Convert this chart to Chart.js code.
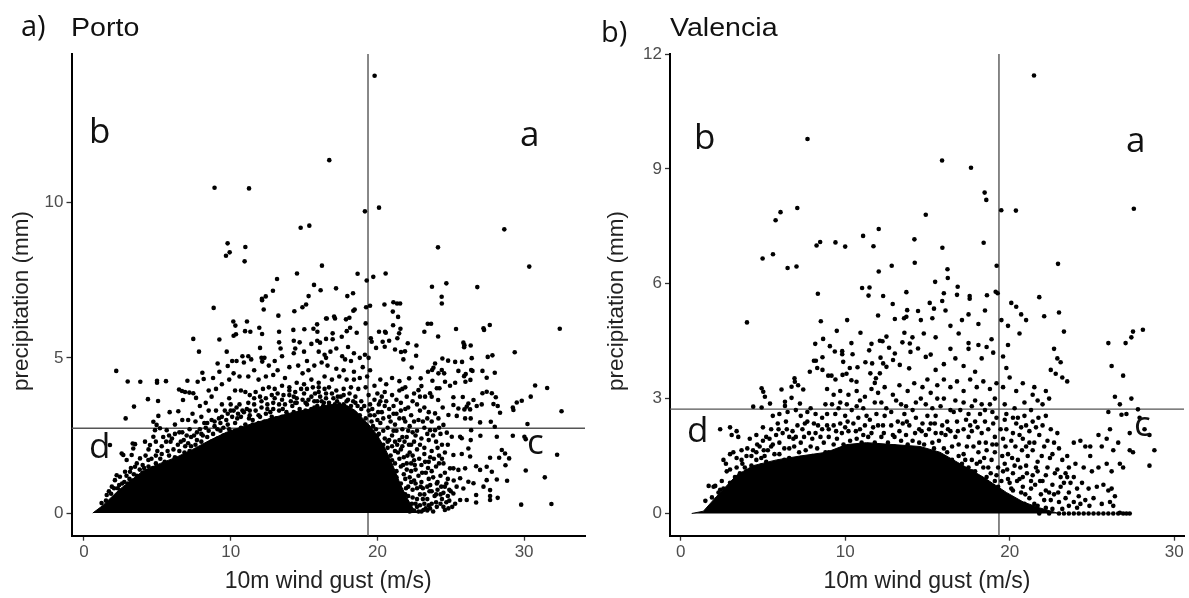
<!DOCTYPE html>
<html><head><meta charset="utf-8">
<script src="https://cdn.jsdelivr.net/npm/chart.js@4"></script>
<style>
html,body{margin:0;padding:0;background:#fff;width:1189px;height:598px;overflow:hidden}
canvas{position:absolute;top:0}
.t{position:absolute;color:#111;white-space:nowrap;line-height:1}
.h{font-family:"Liberation Sans",sans-serif;font-size:26px;transform-origin:left top;transform:scaleX(1.1)}
.p{font-family:"Open Sans",sans-serif;font-size:29px}
.l{font-family:"Open Sans",sans-serif;font-size:35px}
</style></head><body>
<canvas id="c1" width="595" height="598" style="left:0"></canvas>
<canvas id="c2" width="594" height="598" style="left:595px"></canvas>
<div class="t p" style="left:21px;top:10px">a)</div>
<div class="t h" style="left:71px;top:14px">Porto</div>
<div class="t p" style="left:601px;top:16px">b)</div>
<div class="t h" style="left:670px;top:14px">Valencia</div>
<div class="t l" style="left:89px;top:112px">b</div>
<div class="t l" style="left:520px;top:115px">a</div>
<div class="t l" style="left:89px;top:427px">d</div>
<div class="t l" style="left:527px;top:423px">c</div>
<div class="t l" style="left:694px;top:118px">b</div>
<div class="t l" style="left:1126px;top:121px">a</div>
<div class="t l" style="left:687px;top:411px">d</div>
<div class="t l" style="left:1134px;top:405px">c</div>
<script>
const xTitle = "10m wind gust (m/s)";
const yTitle = "precipitation (mm)";
const xTicks = [0,10,20,30];
const portoYTicks = [0,5,10];
const valenciaYTicks = [0,3,6,9,12];
const portoGust = 19.36, portoPrecip = 2.73;
const valenciaGust = 19.35, valenciaPrecip = 2.725;

// upper edge of the solid black mass of overlapping points
const portoMass = [[0.6,0],[1.3,.25],[2.4,.75],[4,1.35],[5.2,1.6],[6.3,1.8],[7.4,2.05],[8.6,2.35],[9.7,2.6],[10.9,2.8],[12,2.95],[13.1,3.1],[14.3,3.25],[15.4,3.35],[16.8,3.5],[17.8,3.5],[18.5,3.3],[19,3.05],[19.5,2.8],[20,2.5],[20.5,2.1],[21,1.6],[21.5,1.0],[22,.5],[22.5,.1],[22.8,0]];
const valenciaMass = [[.67,0],[1.38,.06],[2.19,.45],[3.4,1.0],[4.41,1.25],[5.83,1.4],[7.25,1.5],[8.87,1.6],[10.08,1.8],[11.3,1.85],[12.91,1.8],[14.55,1.75],[15.76,1.6],[16.98,1.3],[18.4,.95],[19.8,.55],[20.83,.3],[21.8,.15],[23,0]];

const portoPoints = [
[8.9,10.48],[11.25,10.46],[14.77,9.19],[15.36,9.26],[16.72,11.37],[9.79,8.69],[9.93,8.4],[9.68,8.29],[11,8.57],[10.95,8.11],[16.22,7.97],[14.52,7.72],[13.16,7.54],[12.88,7.16],[12.39,6.98],[12.13,6.9],[15.68,7.35],[16.13,7.18],[15.31,6.99],
[19.81,14.09],[19.15,9.72],[20.11,9.84],[28.65,9.14],[24.13,8.56],[30.35,7.94],[18.65,7.71],[19.72,7.61],[20.56,7.72],[19.27,7.49],[17.18,7.24],[18.34,7.08],[17.95,6.99],[23.72,7.29],[24.7,7.4],[26.81,7.28],[24.38,6.97],[24.39,6.75],
[2.2,4.58],[2.98,4.24],[3.84,4.23],[4.98,4.26],[4.98,4.2],[5.59,4.25],[3.41,3.43],[2.84,3.05],[4.36,3.67],[5.05,3.61],[5.07,3.13],[5.84,3.25],[6.43,3.28],[6.48,3.98],[6.68,3.93],[6.89,3.9],[7.18,3.88],[7.45,3.86],[7.05,4.26],[6.75,3.64],[7.64,3.71],[7.45,5.61],[7.84,5.2],[8.84,6.61],[9.23,5.59],[9.73,5.2],[8.07,4.52],[7.75,4.23],[8.16,4.32],[9.11,4.82],[9.23,4.55],[9.8,4.74],[10.18,6.17],[10.32,6.04],[11.11,6.17],[10.2,5.71],[10.36,5.76],[10.98,5.86],[11.34,5.84],[11.95,5.97],[12.14,5.77],[12.25,6.56],[12.14,6.86],[13.25,6.36],[14.34,6.5],[14.89,6.63],[15.14,6.72],[13.3,5.84],[14.27,5.9],[15.02,5.92],[15.64,5.94],[15.89,6.08],[15.91,5.84],[16.55,6.27],
[12,5.32],[12.1,5.0],[12.3,5.0],[12.15,4.88],[10.1,4.9],[10.4,4.9],[10.8,5.05],[11.2,5.05],[10.9,4.85],[11.4,4.95],[11.6,4.6],[12.6,4.75],[13.0,4.9],[13.3,5.5],[13.4,5.3],[13.5,5.05],[14.3,5.55],[14.4,5.3],[14.7,5.5],[15.0,5.2],[15.5,5.45],[15.9,5.55],[16.0,5.2],[16.5,5.0],[14.3,5.15],[13.2,4.6],[14.0,4.7],[14.6,4.75],[15.2,4.9],[15.7,4.75],[15.3,4.6],[14.9,4.5],[13.7,4.35],[12.9,4.45],[12.4,4.4],[11.9,4.3],[11.2,4.4],[10.6,4.4],[10.2,4.5],[9.9,4.3],[9.4,4.15],[8.8,4.35],[8.5,3.95],[9,4.0],[8.7,3.75],[8.3,3.55],[7.9,3.45],[7.4,3.2],[7.1,3.0],[6.7,3.0],[6.2,2.85],[6.5,2.6],[7.2,2.7],[7.7,2.6],[8.2,2.9],[8.5,3.3],[9,3.3],[9.4,3.5],[9.9,3.7],[10.3,3.95],[10.7,3.95],[11,3.9],[11.3,3.8],[11.7,3.9],[12.2,4.0],[12.6,4.05],[13,4.0],[13.5,4.1],[14,4.05],[14.5,4.2],[15,4.15],[15.5,4.3],[16,4.2],[16.4,4.4],
[1.77,2.19],[2.57,1.92],[2.68,1.87],[3.25,1.87],[2.91,1.71],[3.32,2.24],[3.48,2.22],[3.36,2.08],[2.23,1.22],[2.11,1.06],[2.45,1.17],[2.8,1.33],[3.14,1.33],[3.48,1.49],[3.82,1.76],[4.39,1.71],[4.16,2.3],[4.5,2.19],[4.73,2.46],[4.84,2.67],[4.95,2.84],[4.73,2.94],[5.18,2.73],[5.64,2.67],[1.7,.7],[1.55,.58],[1.9,.85],[2.05,.8],[2.4,.9],[2.75,1.0],[3.1,1.1],[3.4,1.25],[3.8,1.4],[4.1,1.45],[4.4,1.5],[4.9,1.6],[5.2,1.75],[5.5,1.65],[5.8,1.85],[6.2,1.8],[6.5,1.75],[6.85,1.95],[7.2,2.0],[5,2.0],[5.3,2.15],[5.6,2.3],[6,2.4],[6.4,2.2],[6.8,2.35],[7.1,2.25],[7.6,2.2],[8,2.3],[8.4,2.45],[8.8,2.55],[9.1,2.7],[9.5,2.75],[9.9,2.7],[10.3,2.9],[10.7,3.1],[11,2.85],[11.5,3.0],[12,3.1],[12.4,3.2],[12.8,3.1],[13.3,3.3],[13.8,3.25],[14.2,3.45],[14.7,3.35],[15.2,3.5],[15.7,3.4],[16.2,3.6],[16.7,3.55],[8.9,2.95],[9.4,3.1],[9.8,3.2],[10.2,3.3],[10.6,3.5],[11.1,3.35],[11.6,3.5],[12.1,3.6],[12.5,3.5],[13,3.7],[13.5,3.65],[14,3.8],[14.5,3.7],[15,3.85],[15.5,3.75],[16,3.9],[16.5,3.85],[7.6,2.95],[8,3.1],[10,3.5],[11.3,3.15],[12.9,3.35],[14.4,3.55],[15.9,3.6],
[16.5,6.27],[17.05,6.33],[17.11,6.27],[17.86,6.24],[18.09,6.29],[18.36,6.52],[18.45,6.56],[16.95,5.79],[16.95,5.6],[16.5,5.61],[16.09,5.49],[17.57,5.68],[17.91,5.86],[18.14,5.97],[18.59,5.81],[17.2,5.3],[16.8,5.2],[16.4,5.1],[17.6,5.05],[18,5.35],[18.4,5.15],[17.8,4.95],[18.8,5.0],[19.15,5.1],[19.4,5.0],[18.2,4.9],[17.2,4.65],[16.6,4.75],[16.2,4.85],[17.7,4.6],[18.4,4.55],[19,4.7],[19.5,4.6],[16.9,4.3],[17.4,4.4],[17.9,4.3],[18.4,4.3],[18.8,4.35],[19.3,4.4],[16.7,4.05],[17.2,3.95],[17.7,4.0],[18.2,4.05],[18.7,4.0],[19.2,4.05],[17,3.7],[17.5,3.75],[18,3.65],[18.5,3.75],[18.9,3.6],[19.4,3.8],[17.4,3.5],[18.2,3.45],[18.9,3.35],[19.4,3.3],[19.5,3.5],
[19.5,6.68],[19.23,6.63],[20.48,6.72],[21.09,6.79],[21.34,6.75],[21.55,6.75],[21.05,6.49],[21.41,6.32],[21.07,6.05],[21.57,5.94],[21.48,5.79],[21.36,5.63],[19.2,6.11],[23.43,6.1],[23.66,6.1],[23.2,5.84],[24.14,5.69],[25.36,5.93],[27.23,5.95],[27.27,5.9],[27.66,6.06],[32.43,5.94],[20.11,5.84],[20.52,5.84],[20.57,5.81],[20.36,5.52],[20.8,5.55],[19.55,5.63],[19.61,5.52],[22.07,5.47],[22.66,5.4],[19.91,5.32],[20.5,5.36],[21.2,5.27],[21.88,5.21],[21.61,5.19],[22.64,5.07],[21.77,4.95],[25.91,5.34],[25.86,5.49],[25.93,5.41],[26.36,5.4],[29.36,5.18],[27.52,5.03],[27.84,5.08],[26.43,4.99],[24.43,4.98],[24.82,4.91],[25.3,4.87],[25.77,4.87],[23.93,4.82],[22.34,4.69],[23.82,4.68],[23.45,4.55],[23.73,4.61],[24.16,4.5],[24.39,4.61],[24.55,4.5],[25.52,4.58],[26.02,4.48],[26.39,4.61],[26.48,4.58],[27.16,4.58],[28,4.52],[27.45,4.36],[30.75,4.11],[31.57,4.03],[30.45,3.75],[29.84,3.62],[29.5,3.56],[29.23,3.4],[29.27,3.32],[32.55,3.28],[30.23,2.87],
[22.95,4.34],[22.16,4.34],[23.75,4.26],[24.61,4.23],[25.3,4.2],[24.95,4.1],[26,4.23],[26.34,4.29],[25.91,4.41],[23,4.09],[24.05,4.02],[24.23,4.02],[22.8,3.96],[23.59,3.86],[23.25,3.75],[23.7,3.75],[24.14,3.64],[25.18,3.73],[25.82,3.74],[26.55,3.64],[26.2,3.53],[26.09,3.43],[26.77,3.45],[27.11,3.5],[27.16,3.86],[27.45,3.91],[27.8,3.86],[28.07,3.73],[28.2,3.45],[28.36,3.23],[27.91,3.51],[25.18,3.48],[25.52,3.37],[25.93,3.34],[26.32,3.34],[24.45,3.4],[23.93,3.21],[24.16,3.05],[24.84,3.16],[25.41,3.13],[25.98,3.05],[26.36,3.05],[27,2.92],[27.73,2.94],[28,2.78],[24.5,2.84],[27.02,2.49],[28.14,2.46],[29.23,2.49],[30.02,2.46],[30.11,2.38],[26.39,2.67],[26.36,2.35],[25.75,2.41],[25.07,2.46],[24.73,2.59],[23.93,2.67],[23.59,2.67],[28.48,2.03],[28.7,1.92],[28.98,1.76],[28.3,1.78],[27.68,1.78],[28.73,1.54],[32.25,1.88],[30.11,1.37],[31.41,1.15],[28.84,1.04],[28.14,1.08],[29.8,.27],[31.86,.29],[28.2,.49],[27.68,.42],[27.68,.55],[27.68,.74],[27.23,.85],[27.45,1.06],[27.8,1.33],[27.45,1.49],[27,1.39],[26.73,1.51],[26.73,.34],[26.73,.58],[26.55,.96],[26.2,1.01],[25.86,.79],[25.64,1.12],[25.18,1.44],[25.98,1.44],[25.52,1.39],[24.95,1.44],[25.18,1.87],[25.75,1.9],[26.32,1.82],[26.2,2.08],[25.64,2.46],[26.09,.42],[25.64,.42],[25.18,.63],[24.84,.15],[24.5,.2],[24.05,.2],[23.59,.15],[23.14,.1],
[19.8,4.1],[20.2,4.3],[20.6,4.15],[21,4.35],[21.5,4.25],[21.9,4.05],[20,3.85],[20.5,3.9],[21,3.8],[21.5,3.95],[22,3.75],[22.5,3.85],[20.1,3.5],[20.6,3.6],[21.1,3.45],[21.6,3.55],[22.1,3.4],[22.7,3.5],[23.2,3.4],[19.8,3.15],[20.3,3.25],[20.8,3.1],[21.3,3.2],[21.8,3.05],[22.3,3.15],[22.8,3.0],[23.4,3.05],[19.7,2.8],[20.2,2.9],[20.7,2.75],[21.2,2.85],[21.7,2.7],[22.2,2.8],[22.7,2.65],[23.2,2.75],[20,2.5],[20.5,2.4],[21,2.5],[21.5,2.35],[22,2.45],[22.5,2.3],[23,2.4],[23.5,2.35],[24,2.3],[24.4,2.2],[20.7,2.1],[21.2,2.0],[21.7,2.15],[22.2,1.95],[22.7,2.05],[23.2,1.9],[23.7,2.0],[24.2,1.85],[24.6,1.95],[21,1.7],[21.5,1.75],[22,1.6],[22.5,1.7],[23,1.55],[23.5,1.65],[24,1.5],[24.5,1.6],[21.3,1.35],[21.8,1.25],[22.3,1.35],[22.8,1.2],[23.3,1.3],[23.8,1.15],[24.3,1.2],[24.8,1.1],[25.2,1.05],[21.6,.95],[22.1,.85],[22.6,.95],[23.1,.8],[23.6,.9],[24.1,.75],[24.6,.85],[25,.7],[21.9,.6],[22.4,.5],[22.9,.6],[23.4,.45],[23.9,.55],[24.4,.45],[24.9,.4],[25.3,.3],[22.2,.25],[22.7,.2],[23.2,.3],[23.7,.3],[22.5,.08],[23,.05],[23.4,.08],[21.2,2.3],[22.4,2.6],[19.9,2.3],[20.4,2.65],[21.5,3.05],[22.9,3.3]
];
// denser speckled band hugging the solid mass of Porto
const portoBand = [
[1.2,.32],[1.5,.4],[1.85,.62],[2.3,.8],[2.6,.95],[3,.95],[3.3,1.05],[3.6,1.2],[4,1.3],[4.3,1.35],[4.7,1.45],[5.1,1.5],[5.5,1.5],[5.9,1.6],[6.3,1.65],[6.7,1.8],[7.1,1.85],[7.5,1.95],[7.9,2.05],[8.3,2.15],[8.7,2.3],[9.1,2.4],[9.5,2.5],[9.9,2.55],[10.3,2.65],[10.7,2.75],[11.1,2.75],[11.5,2.85],[11.9,2.9],[12.3,2.95],[12.7,3],[13.1,3.05],[13.5,3.1],[13.9,3.15],[14.3,3.25],[14.7,3.25],[15.1,3.3],[15.5,3.35],[15.9,3.45],[16.3,3.45],[16.7,3.45],[17.1,3.5],[17.7,3.5],
[2.9,1.2],[3.2,1.45],[3.6,1.6],[4,1.55],[4.2,1.85],[4.6,1.75],[4.9,1.85],[5.3,1.9],[5.7,2.0],[6.1,2.05],[6.5,2.0],[6.9,2.15],[7.3,2.15],[7.7,2.35],[8.1,2.5],[8.5,2.65],[8.9,2.8],[9.3,2.9],[9.7,3.0],[10.1,3.1],[10.5,3.2],[10.9,3.25],[11.3,3.3],[11.7,3.3],[12.1,3.4],[12.5,3.35],[12.9,3.55],[13.3,3.5],[13.7,3.5],[14.1,3.6],[14.5,3.55],[14.9,3.65],[15.3,3.65],[15.7,3.6],[16.1,3.75],[16.5,3.7],[16.9,3.85],[17.3,3.75],[17.7,3.8],[18.1,3.85],[18.5,3.55],
[4.4,2.05],[4.9,2.3],[5.4,2.45],[5.8,2.5],[6.2,2.55],[6.7,2.6],[7,2.5],[7.5,2.5],[7.9,2.7],[8.3,2.75],[8.7,3],[9.2,3.05],[9.6,3.3],[10,3.3],[10.4,3.4],[10.8,3.3],[11.2,3.55],[11.6,3.7],[12,3.75],[12.4,3.7],[12.8,3.8],[13.2,3.85],[13.6,3.8],[14,3.95],[14.4,3.9],[14.8,4],[15.2,4],[15.6,4.05],[16,4.05],[16.4,4],
[18.8,3.15],[19.2,3.05],[19.6,2.95],[19.9,2.7],[20.1,2.55],[20.4,2.2],[20.7,2.3],[21,2.15],[20.9,1.85],[21.2,1.6],[21.4,1.95],[21.6,1.5],[21.8,1.8],[21.9,1.1],[22,1.4],[22.2,1.15],[22.3,1.6],[22.5,1.05],[22.6,1.4],[22.7,.8],[23,1.0],[23.2,.6],[23.4,.85],[23.5,1.1],[23.7,.7],[24,.35],[24.1,1.0],[24.3,.6],[24.5,.65],[24.7,.95],[24.9,.75],[25.1,.2],[25.4,.85],[22.1,.55],[22.4,.75],[22.7,.45],[22.9,.25],[23.1,.45],[23.5,.25],[22.6,.3],[22.2,.05],[22.8,.05],[23.8,.05],[24.3,.3],[24.6,.1],
[19.5,3.15],[20,3],[20.4,3.05],[20.9,2.95],[21.3,2.65],[21.7,2.45],[22.1,2.65],[22.3,2.2],[22.6,2.5],[22.9,2.2],[23.2,2.1],[23.4,2.55],[23.6,1.8],[23.8,2.5],[24.1,2.1],[24.3,2.55],[24.4,1.75],[24.8,2.2],[21.9,2.95],[22.5,2.95],[23.1,2.95],[23.7,2.95],[24.2,2.75],[20.2,3.6],[20.8,3.35],[21.3,3.65],[21.9,3.35],[22.4,3.6],[22.9,3.75],[23.5,3.25],[19.8,3.65],[21.7,4.0],[20.3,3.75],
[20.8,2.35],[21.1,2.65],[21.35,2.2],[21.6,2.05],[21.85,2.3],[22.05,1.85],[22.15,2.2],[22.4,1.85],[22.55,1.55],[22.85,1.75],[23.05,1.3],[23.25,1.65],[23.45,1.45],[23.7,1.35],[23.85,1.75],[24.05,.95],[24.2,1.6],[24.35,.85],[24.6,1.3],[24.8,.55],[22.3,1.0],[21.75,1.55],[21.3,1.15],[22.95,.85],[23.55,.7],[21.95,.8],[22.35,.3],[24.0,.6],[23.3,.15],[24.7,.35],
[5.9,2.3],[6.6,2.3],[7.3,2.45],[8,2.55],[8.4,2.9],[9.3,2.65],[9.8,2.85],[10.45,3.05],[11.25,3.05],[11.9,3.15],[12.7,3.25],[13.55,3.35],[14.3,3.75],[15.1,3.55],[15.75,3.85],[16.35,3.55],[17.25,3.6],[17.9,3.6],[18.35,3.6],[18.65,3.45],[19.1,3.45],[19.65,3.35],[20.05,3.25],[20.5,3.45],[21.1,3.2],[21.6,3.3]
];

const valenciaPoints = [
[7.71,9.78],[7.09,7.98],[6.07,7.87],[5.77,7.66],[14.9,7.8],[12.04,7.43],[11.09,7.25],[8.48,7.09],[8.26,7],[9.41,7.08],[10,6.97],[11.72,6.98],[14.21,7.16],[5.61,6.77],[4.98,6.66],[6.5,6.41],[7.04,6.45],[12.04,6.32],[12.83,6.47],[14.23,6.55],[11.03,5.89],[11.48,5.9],[11.42,5.69],[12.31,5.68],[13.72,5.78],[8.34,5.74],
[21.48,11.44],[15.89,9.22],[17.65,9.03],[18.48,8.38],[18.58,8.19],[19.49,7.92],[20.38,7.91],[27.55,7.96],[15.91,6.94],[18.42,7.07],[19.21,6.47],[22.94,6.52],[16.22,6.38],[16.24,6.15],[15.47,6.05],[16.84,5.92],[16.8,5.71],[17.57,5.68],[17.57,5.61],[18.62,5.7],[19.15,5.79],[19.27,5.75],
[4.03,4.99],[12.89,5.47],[13.77,5.31],[14.43,5.29],[15.14,5.5],[12,5.17],[13.02,5.08],[13.58,5.1],[13.72,5.14],[14.6,5.05],[8.52,5.02],[10.12,5.05],[9.49,4.77],[10.93,4.72],[13.6,4.72],[14.78,4.7],[8.66,4.56],[8.18,4.43],[9.07,4.37],[10.38,4.45],[11.6,4.43],[12.11,4.51],[12.27,4.5],[12.51,4.62],[13.48,4.47],[14.09,4.6],[13.93,4.44],[9.37,4.23],[9.82,4.24],[9.82,4.16],[10.45,4.16],[11.46,4.26],[12.67,4.33],[13.97,4.22],[14.43,4.31],[14.9,4.09],[13.02,4.18],[8.62,4.08],[8.1,3.99],[8.22,3.99],[9.88,3.96],[11.23,3.95],[11.64,3.92],[12.15,4.07],[12.31,3.92],[12.91,4.01],[13.32,3.88],[13.89,3.79],[12.51,3.83],[12.11,3.66],[11.53,3.66],
[8.3,3.8],[8.62,3.75],[7.85,3.7],[8.97,3.6],[9.17,3.6],[9.41,3.5],[9.84,3.62],[10.08,3.65],[10.28,3.8],[10.75,3.82],[10.38,3.48],[10.69,3.44],[11.87,3.53],[11.8,3.41],[6.92,3.53],[6.94,3.44],[6.74,3.31],[7.14,3.35],[7.45,3.24],[6.13,3.24],[4.92,3.27],[5.02,3.18],[5.12,3.05],[4.41,2.79],[4.92,2.77],[5.43,2.87],[6.34,2.92],[6.34,2.81],[6.74,3.02],[7.25,2.87],
[8.9,3.25],[9.3,3.1],[9.7,3.2],[10.2,3.1],[10.7,3.2],[11.2,3.05],[11.6,3.25],[12,3.15],[12.4,3.3],[12.9,3.1],[13.3,3.35],[13.8,3.2],[14.2,3.4],[14.7,3.3],[15,3.5],[15.2,3.15],[15.6,3.35],[16,3.5],[16.4,3.3],[16.8,3.45],[17.2,3.2],[17.6,3.5],[18,3.3],[18.4,3.45],[18.8,3.25],[19.2,3.4],[15.5,3.75],[16,3.9],[15.2,4.15],[16.7,4.05],[17.2,3.85],[17.5,4.3],[17.9,3.7],[18.3,4.05],[15.5,4.6],[16.4,4.3],[16.9,4.7],[17.5,4.45],[18.1,4.4],[18.9,4.55],[18.6,4.35],[19,4.2],[15.3,5.1],[16.1,5.3],[16.4,4.9],[17.1,5.05],[17.5,5.2],[18.1,4.95],[18.5,5.3],[15.9,5.55],[15.4,5.35],[16,5.75],
[19.5,5.05],[19.9,4.9],[20.1,5.5],[20.4,5.4],[20.7,5.2],[19.9,4.4],[19.6,4.1],[20.6,4.7],[21,5.05],[21.8,5.65],[23,5.25],[23.3,4.75],[22.1,5.15],[22.7,4.3],[22.9,4.05],[26,4.45],[27.05,4.45],[27.5,4.75],[28.1,4.8],[27.4,4.6],[26.2,3.85],[26.9,3.6],[23.1,3.95],[22.5,3.75],[23.2,3.55],[22.8,3.65],[23.5,3.45],
[20.8,3.4],[21.4,3.1],[20.4,3.2],[20,3.55],[19.8,3.8],[19.6,3.3],[21.5,3.3],[22.2,3.2],[22.4,3],[20.9,2.9],[21.7,2.95],[22,2.85],[26.4,3.05],[26.7,2.85],[27.4,3.0],[27.8,2.72],[26,2.65],[26.8,2.58],[27.1,2.6],[26.1,2.2],[27.9,2.5],[28.2,2.2],[27.3,2.1],[28.5,2.05],[28.8,1.65],[28.5,1.25],[27.3,1.65],[27.5,1.6],[26.6,1.85],[25.9,1.95],[25.4,2.05],[24.3,1.9],[23.9,1.85],[24.6,1.75],[24.9,1.75],[25.6,1.75],[26.3,1.65],[26.7,1.3],[26.9,1.2],[26.2,1.1],[24.9,1.5],
[19.8,2.6],[20.3,2.75],[20.9,2.55],[21.4,2.4],[22.2,2.55],[22.5,2.2],[22.9,2.1],[21.2,2.15],[20.4,2.35],[19.8,2.2],[20.1,1.9],[20.8,1.95],[21.5,1.85],[22.1,1.75],[22.6,1.55],[23,1.7],[23.5,1.5],[24,1.3],[24.5,1.2],[25,1.1],[25.4,1.2],[25.9,1.3],[19.9,1.55],[20.5,1.4],[21.1,1.5],[21.7,1.35],[22.3,1.2],[22.9,1.15],[23.4,1.05],[23.9,.95],[24.4,.8],[24.8,.65],[25.3,.7],[25.7,.75],[26,.6],[26.2,.65],[26.4,.45],[19.6,1.1],[20.2,1.05],[20.8,.95],[21.4,1],[22,.85],[22.6,.75],[23.1,.7],[23.6,.55],[24.2,.45],[24.6,.35],[25.1,.4],[25.6,.25],[26.1,.3],[26.3,.2],[20.2,.6],[20.7,.55],[21.3,.65],[21.9,.5],[22.5,.35],[23,.3],[23.6,.2],[24.1,.15],[20.9,.25],[21.5,.25],[22.2,.15],
[2.1,.72],[2.4,.62],[1.5,.33],[1.7,.72],[2,.7],[2.5,.85],[2.8,1.1],[2.75,1.3],[3,1.55],[2.6,1.4],[3.2,1.6],[3.4,1.45],[3.7,1.4],[3.5,2.0],[3.1,2.05],[3,2.25],[2.4,2.2],[3.4,2.15],[4,1.1],[4.3,1.25],[4.6,1.4],[4.4,1.65],[4.8,1.75],[5.1,1.5],[5.4,1.25],[5.7,1.55],[6,1.85],[5.2,2.0],[5,2.25],[5.5,2.2],[5.9,2.35],[6.3,1.4],[6.6,1.7],[6.9,1.3],[7.2,1.6],[7.5,2.0],[6.8,2.15],[7.1,2.3],[7.7,2.4],[6.4,2.4],[7.4,1.3],[7.9,1.75],[8.2,1.4],[8.5,2.0],[8.8,1.6],[8.1,2.35],[8.6,2.5],[9,2.2],[9.3,1.8],[9.6,1.5],[9.8,2.1],[9.4,2.6],[10,2.55],[10.3,1.9],[10.6,1.6],[10.9,2.2],[10.4,2.7],[11.1,2.75],[11.3,1.75],[11.6,2.1],[11.9,2.6],[12,1.7],[12.3,2.3],[12.6,1.6],[12.8,2.65],[13,2.0],[13.3,1.55],[13.5,2.35],[13.8,1.8],[14.1,2.7],[14.3,1.6],[14.5,2.2],[14.8,1.8],[15,2.55],[15.3,1.55],[15.5,2.1],[15.8,2.8],[16,1.7],[16.2,2.4],[16.5,1.4],[16.7,2],[17,2.7],[17.1,1.3],[17.4,1.75],[17.6,2.3],[17.9,1.1],[18.1,1.6],[18.3,2.1],[18.5,2.7],[18.6,.95],[18.9,1.4],[19.1,2],[19.2,2.5],[19.3,.7],[19.3,1.2],[19.1,.85],[17.5,1.2],[18.3,.9],[8,1.3],[9.2,1.35],[10.2,1.6],[11,1.55],[12.4,1.55],[13.6,1.55],[15,1.45],[16.1,1.35],[6.5,1.2],[5,1.15],[4.7,1.1],[3.9,.95],[7,2.7],[7.9,2.75],[8.8,2.85],[9.7,2.9],[10.9,2.95],[12.2,2.9],[13.4,2.85],[14.6,3],[15.6,3.0],[16.7,2.95],[17.9,2.95],
[23,0],[23.3,0],[23.6,0],[23.9,0],[24.2,0],[24.5,0],[24.8,0],[25.1,0],[25.4,0],[25.7,0],[26,0],[26.3,0],[26.6,0],[26.7,.02],[26.9,0],[27.1,0],[27.3,0],[22.4,0],[21.8,0]
];
// denser speckled band hugging the solid mass of Valencia
const valenciaBand = [
[1.9,.42],[2.3,.55],[2.6,.65],[3,.8],[3.3,.95],[3.6,1.05],[3.9,1.2],[4.2,1.1],[4.5,1.2],[4.9,1.25],[5.2,1.35],[5.6,1.2],[5.9,1.3],[6.2,1.25],[6.6,1.35],[7,1.25],[7.3,1.45],[7.7,1.3],[8,1.5],[8.4,1.35],[8.7,1.5],[9,1.45],[9.4,1.6],[9.8,1.55],[10.1,1.7],[10.5,1.55],[10.9,1.75],[11.2,1.6],[11.6,1.75],[12,1.55],[12.3,1.75],[12.7,1.55],[13.1,1.7],[13.5,1.5],[13.9,1.7],[14.2,1.5],[14.6,1.65],[15,1.55],[15.4,1.7],[15.8,1.5],[16.2,1.6],[16.6,1.2],[16.9,1.5],[17.3,1.0],[17.7,1.4],[18,.8],[18.4,1.2],[18.8,.7],[19.2,1.0],[19.6,.45],[20,.8],[20.4,.3],[20.8,.7],[21.2,.4],[21.7,.2],[22.1,.35],[22.6,.12],[23.2,.12],[23.9,.3],
[3,1.15],[3.4,1.2],[3.7,1.65],[4,1.5],[4.3,1.5],[4.6,1.6],[4.9,1.45],[5.3,1.65],[5.6,1.8],[6,1.55],[6.3,1.7],[6.6,1.45],[6.9,1.75],[7.3,1.85],[7.6,1.65],[8,1.95],[8.3,1.7],[8.7,1.85],[9,1.6],[9.5,1.95],[9.9,1.8],[10.2,2.15],[10.7,1.95],[11,1.85],[11.4,2.0],[11.8,1.85],[12.2,2.0],[12.6,1.85],[13,1.75],[13.4,1.9],[13.7,2.05],[14.1,1.9],[14.5,1.85],[14.9,2.05],[15.3,1.85],[15.7,1.9],[16.1,2.05],[16.5,1.75],[16.9,1.8],[17.2,1.55],[17.5,2],[17.8,1.75],[18.2,1.35],[18.6,1.65],[18.7,1.2],[19.1,1.6],[19.7,1.3],[19.9,.9],[20.3,1.25],[20.6,.9],[21,1.25],[21.3,.85],[21.7,1.1],[22.2,.6],[22.7,.5],[23.1,.95],[23.4,.4],[23.7,.8],
[4.2,1.95],[4.6,2.05],[5,1.9],[5.4,1.95],[5.8,2.05],[6.2,2.1],[6.6,2.0],[7,2],[7.4,2.2],[7.8,2.1],[8.2,2.1],[8.6,2.2],[9,2.0],[9.3,2.3],[9.7,2.35],[10,2.25],[10.5,2.35],[10.8,2.5],[11.2,2.3],[11.5,2.45],[12,2.3],[12.4,2.55],[12.8,2.3],[13.2,2.4],[13.6,2.6],[13.9,2.3],[14.3,2.5],[14.7,2.35],[15.2,2.35],[15.5,2.55],[15.9,2.3],[16.4,2.15],[16.8,2.4],[17.2,2.2],[17.5,2.6],[17.9,2.4],[18.2,2.6],[18.7,2.2],[19,2.35],[19.6,1.95],[20.2,2.1],[20.6,2.05],[21,1.75],[21.4,1.65],[21.8,2.05],[22.3,1.9],[22.7,1.85],[23.2,1.4],[23.6,1.2],
[5.6,2.55],[6,2.6],[6.5,2.65],[7.3,2.55],[7.7,2.65],[8.2,2.6],[8.9,2.6],[9.2,2.85],[9.6,2.75],[10.1,2.85],[10.7,2.8],[11.3,2.55],[11.8,2.9],[12.5,2.75],[13.1,2.95],[13.7,2.8],[14.3,2.9],[14.9,2.85],[15.3,2.75],[16,3],[16.4,2.7],[17.2,2.9],[17.7,2.8],[18.3,2.85],[18.8,2.85],[19.1,3],[19.7,2.85],[20.2,2.5],[20.7,2.25],[21.6,2.25],[22,2.3],
[17.3,1.4],[17.7,1.1],[18,1.3],[18.15,1.85],[18.45,1.45],[18.55,1.85],[18.85,1.05],[18.95,1.8],[19.2,1.8],[19.5,.85],[19.55,1.5],[19.75,1.75],[19.85,1.15],[20.1,.65],[20.15,1.45],[20.35,1.75],[20.45,.85],[20.65,1.2],[20.75,1.65],[20.95,.5],[21.05,1.05],[21.2,1.85],[21.55,.75],[21.6,1.2],[21.85,.85],[21.95,1.5],[22.2,1.0],[22.4,.55],[22.45,1.45],[22.75,1.05],[22.95,.55],[23.3,.8],[23.5,.95],[24.1,.65],[24.3,.25],[24.85,.2],[19.45,2.2],[19.7,2.45],[20.5,2.5],[21,2.3],[21.3,2.7],[21.75,2.5],[18.95,2.65],[16.6,2.65],[16.85,2.15],[17.35,2.45],[17.7,2.15],[18.05,2.25],[18.5,2.4],
[3.75,1.3],[4.05,1.7],[4.65,1.8],[5.05,1.65],[5.5,1.75],[5.95,2.2],[6.45,2.2],[6.85,1.95],[7.55,2.35],[8.35,2.3],[8.9,2.3],[9.45,2.15],[10.15,2.4],[10.65,2.15],[11.1,2.05],[11.7,2.25],[12.35,2.1],[12.9,2.05],[13.3,2.15],[13.75,2.4],[14.25,2.1],[14.65,2.15],[15.1,2.2],[15.45,2.35],[15.85,2.1],[16.25,2.2]
];

const charts = [
  {id:"c1",pts:portoPoints.concat(portoBand),mass:portoMass,yTicks:portoYTicks,gust:portoGust,precip:portoPrecip,
   xMin:-0.85,xMax:34.15,yMin:-0.73,yMax:14.79,left:71.5,right:10},
  {id:"c2",pts:valenciaPoints.concat(valenciaBand),mass:valenciaMass,yTicks:valenciaYTicks,gust:valenciaGust,precip:valenciaPrecip,
   xMin:-0.65,xMax:30.6,yMin:-0.58,yMax:12,left:75,right:5}
];
const toXY = a => a.map(p=>({x:p[0],y:p[1]}));
charts.forEach(c=>{
  new Chart(document.getElementById(c.id),{
    type:"scatter",
    data:{datasets:[
      {data:toXY(c.pts),backgroundColor:"#000",borderColor:"#000",borderWidth:0,pointRadius:2.3,order:1},
      {data:toXY(c.mass),showLine:true,backgroundColor:"#000",borderColor:"#000",borderWidth:1,pointRadius:0,fill:{value:0},tension:0,order:2},
      {data:[{x:c.xMin,y:c.precip},{x:c.xMax,y:c.precip}],showLine:true,borderColor:"#555",borderWidth:1.4,pointRadius:0,order:3},
      {data:[{x:c.gust,y:c.yMin},{x:c.gust,y:c.yMax}],showLine:true,borderColor:"#555",borderWidth:1.4,pointRadius:0,order:3}
    ]},
    options:{
      responsive:false,animation:false,devicePixelRatio:1,
      layout:{padding:{top:54,right:c.right,left:0,bottom:0}},
      plugins:{legend:{display:false},tooltip:{enabled:false},filler:{propagate:false}},
      scales:{
        x:{type:"linear",min:c.xMin,max:c.xMax,
          afterBuildTicks:s=>{s.ticks=xTicks.map(v=>({value:v}))},
          afterFit:s=>{s.height=62.3},
          grid:{display:true,drawOnChartArea:false,drawTicks:true,tickLength:5,tickColor:"#333",tickWidth:1.3},
          border:{display:true,color:"#000",width:2},
          ticks:{color:"#4d4d4d",font:{family:"Liberation Sans",size:17},padding:1,maxRotation:0},
          title:{display:true,text:xTitle,color:"#222",font:{family:"Liberation Sans",size:23},padding:{top:0,bottom:3}}
        },
        y:{type:"linear",min:c.yMin,max:c.yMax,
          afterBuildTicks:s=>{s.ticks=c.yTicks.map(v=>({value:v}))},
          afterFit:s=>{s.width=c.left},
          grid:{display:true,drawOnChartArea:false,drawTicks:true,tickLength:5,tickColor:"#333",tickWidth:1.3},
          border:{display:true,color:"#000",width:2},
          ticks:{color:"#4d4d4d",font:{family:"Liberation Sans",size:17},padding:3},
          title:{display:true,text:yTitle+"  ",color:"#222",font:{family:"Liberation Sans",size:22.5},padding:{top:8,bottom:0}}
        }
      }
    }
  });
});
</script>
</body></html>
